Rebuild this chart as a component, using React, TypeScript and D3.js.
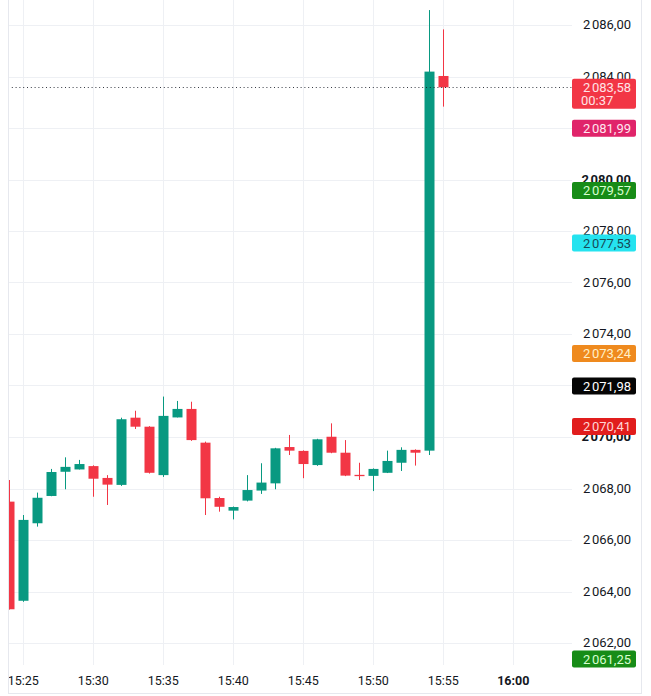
import { scaleLinear } from "d3";

// 1-minute candles, minutes after 15:00
const minutes = [
  24, 25, 26, 27, 28, 29, 30, 31, 32, 33, 34, 35, 36, 37, 38, 39,
  40, 41, 42, 43, 44, 45, 46, 47, 48, 49, 50, 51, 52, 53, 54, 55,
];
const opens = [
  2067.49, 2063.64, 2066.65, 2067.71, 2068.65, 2068.74, 2068.87, 2068.41,
  2068.14, 2070.75, 2070.4, 2068.52, 2070.76, 2071.09, 2069.78, 2067.63,
  2067.14, 2067.53, 2067.92, 2068.2, 2069.61, 2069.46, 2068.91, 2070.01,
  2069.39, 2068.53, 2068.49, 2068.61, 2069.0, 2069.5, 2069.47, 2084.02,
];
const highs = [
  2068.33, 2066.97, 2067.84, 2068.76, 2069.21, 2069.11, 2068.9, 2068.52,
  2070.75, 2071.02, 2070.42, 2071.57, 2071.4, 2071.37, 2069.82, 2067.68,
  2067.3, 2068.52, 2068.98, 2069.58, 2070.08, 2069.48, 2069.93, 2070.53,
  2069.88, 2069.0, 2068.78, 2069.47, 2069.6, 2069.52, 2086.58, 2085.83,
];
const lows = [
  2063.3, 2063.6, 2066.52, 2067.7, 2067.97, 2068.74, 2067.68, 2067.36,
  2068.1, 2070.31, 2068.58, 2068.45, 2070.76, 2069.85, 2066.97, 2067.1,
  2066.8, 2067.5, 2067.79, 2067.97, 2069.3, 2068.4, 2068.88, 2069.37,
  2068.48, 2068.33, 2067.9, 2068.6, 2068.68, 2068.89, 2069.3, 2082.83,
];
const closes = [
  2063.31, 2066.78, 2067.64, 2068.64, 2068.84, 2068.95, 2068.38, 2068.15,
  2070.69, 2070.4, 2068.61, 2070.82, 2071.09, 2069.88, 2067.62, 2067.29,
  2067.28, 2067.94, 2068.23, 2069.56, 2069.47, 2068.95, 2069.91, 2069.39,
  2068.5, 2068.48, 2068.76, 2069.07, 2069.5, 2069.39, 2084.19, 2083.58,
];

const priceTicks = [
  2062, 2064, 2066, 2068, 2070, 2072, 2074, 2076, 2078, 2080, 2082, 2084, 2086,
];
const boldPriceTicks = [2070, 2080];
const timeTicks = [25, 30, 35, 40, 45, 50, 55, 60];
const timeLabels = ["15:25", "15:30", "15:35", "15:40", "15:45", "15:50", "15:55", "16:00"];

const lastPrice = 2083.58;
const countdown = "00:37";
const markerValues = [2081.99, 2079.57, 2077.53, 2073.24, 2071.98, 2070.41, 2061.25];
const markerFills = ["#e0246a", "#178c17", "#25e3ef", "#ef8a1e", "#050505", "#e11d1d", "#178c17"];
const markerTexts = ["#ffe6ef", "#d8ffd0", "#174b57", "#fff0c8", "#ffffff", "#ffd6d6", "#d8ffd0"];

const W = 651;
const H = 696;
const paneLeft = 8;
const paneRight = 572;
const paneBottom = 665;
const axisRight = 641;
const UP = "#089981";
const DOWN = "#f23645";
const GRID = "#eef0f4";
const TEXT = "#131722";
const FONT = "Roboto, 'Noto Sans', sans-serif";
const PRICE_FS = 13;

const fmt = (v: number) => {
  const [i, d] = v.toFixed(2).split(".");
  return `${i.slice(0, 1)}\u202f${i.slice(1)},${d}`;
};

export default function App() {
  const x = scaleLinear().domain([25, 60]).range([23.3, 513.3]);
  const y = scaleLinear().domain([2062, 2086]).range([643, 25]);
  const bodyW = 10;

  return (
    <svg
      width={W}
      height={H}
      style={{ position: "absolute", left: 0, top: 0, background: "#fff" }}
      fontFamily={FONT}
    >
      <defs>
        <clipPath id="pane">
          <rect x={paneLeft} y={0} width={paneRight - paneLeft} height={paneBottom} />
        </clipPath>
      </defs>

      <g clipPath="url(#pane)">
        {priceTicks.map((t) => (
          <line
            key={`h-${t}`}
            x1={paneLeft}
            x2={paneRight}
            y1={Math.round(y(t)) + 0.5}
            y2={Math.round(y(t)) + 0.5}
            stroke={GRID}
          />
        ))}
        {timeTicks.map((t) => (
          <line
            key={`v-${t}`}
            x1={Math.round(x(t)) + 0.5}
            x2={Math.round(x(t)) + 0.5}
            y1={0}
            y2={paneBottom}
            stroke={GRID}
          />
        ))}

        {minutes.map((m, i) => {
          const up = closes[i] >= opens[i];
          const c = up ? UP : DOWN;
          const cx = Math.round(x(m)) + 0.5;
          const top = y(Math.max(opens[i], closes[i]));
          const bot = y(Math.min(opens[i], closes[i]));
          return (
            <g key={`c-${m}`}>
              <line x1={cx} x2={cx} y1={y(highs[i])} y2={y(lows[i])} stroke={c} strokeWidth={1} />
              <rect
                x={cx - bodyW / 2}
                y={top}
                width={bodyW}
                height={Math.max(1, bot - top)}
                fill={c}
              />
            </g>
          );
        })}

        <line
          x1={paneLeft}
          x2={paneRight}
          y1={Math.round(y(lastPrice)) + 0.5}
          y2={Math.round(y(lastPrice)) + 0.5}
          stroke={TEXT}
          strokeOpacity={0.85}
          strokeDasharray="1 2.8"
        />
      </g>

      {/* price scale */}
      {priceTicks.map((t) => (
        <text
          key={`pt-${t}`}
          x={631}
          y={y(t) - 0.5}
          dy="0.36em"
          textAnchor="end"
          fontSize={PRICE_FS}
          fontWeight={boldPriceTicks.includes(t) ? 700 : 400}
          fill={TEXT}
        >
          {fmt(t)}
        </text>
      ))}

      {markerValues.map((v, i) => {
        const cy = Math.min(y(v), 659);
        return (
          <g key={`m-${v}`}>
            <rect x={572} y={cy - 8.5} width={64} height={17} rx={2} fill={markerFills[i]} />
            <text
              x={631}
              y={cy}
              dy="0.36em"
              textAnchor="end"
              fontSize={PRICE_FS}
              fill={markerTexts[i]}
            >
              {fmt(v)}
            </text>
          </g>
        );
      })}

      <g>
        <rect x={572} y={y(lastPrice) - 8.5} width={64} height={30} rx={2} fill={DOWN} />
        <text x={631} y={y(lastPrice)} dy="0.36em" textAnchor="end" fontSize={PRICE_FS} fill="#ffe3e6">
          {fmt(lastPrice)}
        </text>
        <text
          x={581}
          y={y(lastPrice) + 13.5}
          dy="0.36em"
          textAnchor="start"
          fontSize={PRICE_FS}
          fill="#ffe3e6"
        >
          {countdown}
        </text>
      </g>

      {/* time axis */}
      {timeTicks.map((t, i) => (
        <text
          key={`tt-${t}`}
          x={x(t)}
          y={680}
          dy="0.36em"
          textAnchor="middle"
          fontSize={12.5}
          fontWeight={t === 60 ? 700 : 400}
          fill={TEXT}
        >
          {timeLabels[i]}
        </text>
      ))}

      {/* frame */}
      <line x1={paneLeft + 0.5} x2={paneLeft + 0.5} y1={0} y2={694} stroke="#e6e8ee" />
      <line x1={axisRight + 0.5} x2={axisRight + 0.5} y1={0} y2={694} stroke="#e6e8ee" />
      <line x1={paneLeft} x2={axisRight + 1} y1={693.5} y2={693.5} stroke="#e6e8ee" />
    </svg>
  );
}
